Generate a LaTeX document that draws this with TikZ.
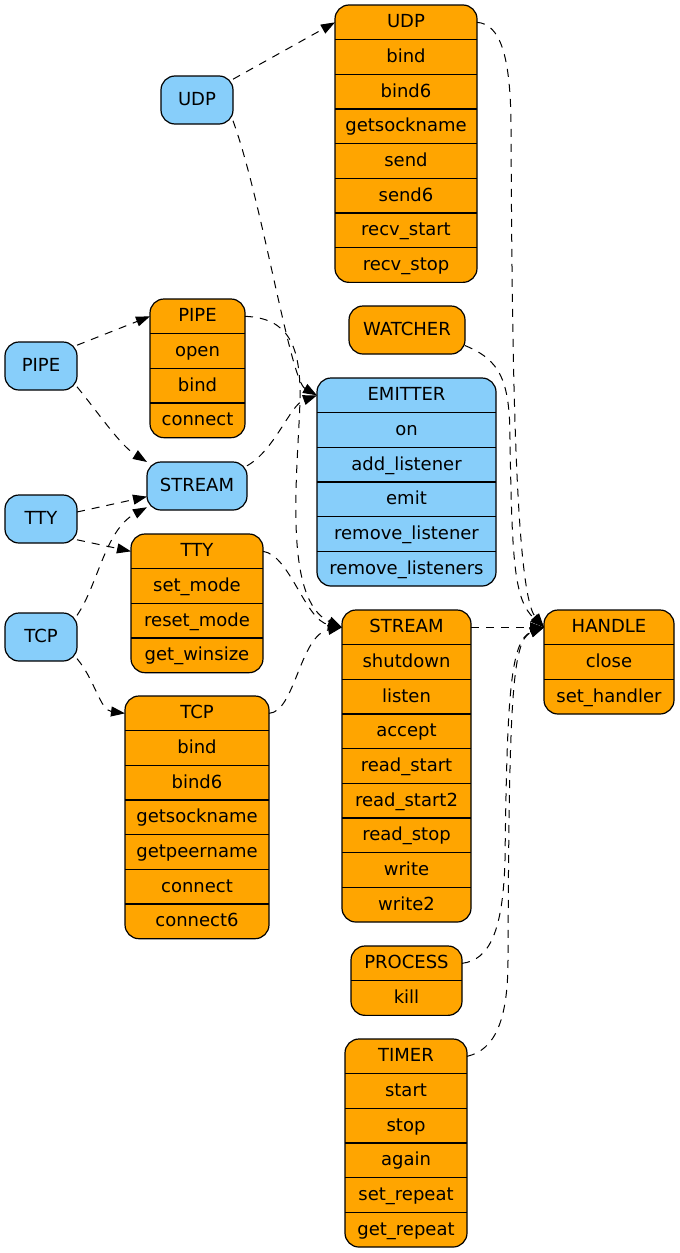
\documentclass[tikz,border=0pt]{standalone}
\usepackage{fontspec}
\setmainfont{DejaVu Sans}
\usetikzlibrary{arrows.meta}
\definecolor{methodorange}{HTML}{FFA500}
\definecolor{classblue}{HTML}{87CEFA}
\def\rowh{34.67}

% method table: name, colour, centre x, top y, width, number of rows, labels
\newcommand{\methodtable}[7]{%
  \node[box, fill=#2, minimum width=#5pt, minimum height={#6*\rowh*1pt}] (#1) at (#3, {#4+#6*\rowh/2}) {};
  \foreach \lbl [count=\i] in {#7} {
    \node[row, minimum width=#5pt] (#1-\i) at (#3, {#4+(\i-0.5)*\rowh}) {\lbl};
    \ifnum\i>1 \draw[sepline] (#1-\i.north west) -- (#1-\i.north east); \fi
  }%
}

\begin{document}
\begin{tikzpicture}[x=1pt, y=-1pt,
  every node/.style = {font=\fontsize{18}{21}\selectfont},
  box/.style = {draw, line width=1.2pt, rounded corners=14pt, inner sep=0pt, outer sep=0pt},
  row/.style = {inner sep=0pt, outer sep=0pt, minimum height=\rowh pt, text height=15pt, text depth=4pt},
  cls/.style = {box, fill=classblue, minimum width=72pt, minimum height=48pt, text height=15pt, text depth=4pt},
  sepline/.style = {line width=1.1pt},
  link/.style = {line width=1pt, dash pattern=on 8pt off 7pt, -{Triangle[length=14pt, width=10pt]}}]

\useasboundingbox (0,0) rectangle (680,1253);

% Classes
\node[cls] (udpc) at (197,100) {UDP};
\node[cls] (pipec) at (41,366) {PIPE};
\node[cls] (ttyc) at (41,519) {TTY};
\node[cls] (tcpc) at (41,637) {TCP};
\node[cls, minimum width=100pt] (streamc) at (197,486) {STREAM};

% Method tables
\methodtable{udp}{methodorange}{406}{5}{142}{8}{UDP,bind,bind6,getsockname,send,send6,recv\_start,recv\_stop}
\methodtable{pipe}{methodorange}{197.5}{299}{95}{4}{PIPE,open,bind,connect}
\node[cls, fill=methodorange, minimum width=116pt] (watcher) at (407,330) {WATCHER};
\methodtable{emitter}{classblue}{406.5}{378}{179}{6}{EMITTER,on,add\_listener,emit,remove\_listener,remove\_listeners}
\methodtable{tty}{methodorange}{197}{534}{132}{4}{TTY,set\_mode,reset\_mode,get\_winsize}
\methodtable{stream}{methodorange}{406.5}{610}{129}{9}{STREAM,shutdown,listen,accept,read\_start,read\_start2,read\_stop,write,write2}
\methodtable{handle}{methodorange}{609}{610}{130}{3}{HANDLE,close,set\_handler}
\methodtable{tcp}{methodorange}{197}{696}{144}{7}{TCP,bind,bind6,getsockname,getpeername,connect,connect6}
\methodtable{process}{methodorange}{406.5}{946}{111}{2}{PROCESS,kill}
\methodtable{timer}{methodorange}{406}{1039}{122}{6}{TIMER,start,stop,again,set\_repeat,get\_repeat}

% Links
\draw[link] (udpc.30) -- (udp-1.west);
\draw[link] (udpc.-30) .. controls (262,200) and (290,380) .. (emitter-1.west);
\draw[link] (udp-1.east) .. controls (500,24) and (511,55) .. (511,130) .. controls (512,300) and (513,590) .. (handle-1.west);
\draw[link] (pipec.30) -- (pipe-1.west);
\draw[link] (pipec.-30) .. controls (100,415) and (120,445) .. (streamc.north west);
\draw[link] (pipe-1.east) .. controls (288,318) and (301,345) .. (300,400) .. controls (298,470) and (282,600) .. (stream-1.west);
\draw[link] (streamc.22) .. controls (275,450) and (290,405) .. (emitter-1.west);
\draw[link] (watcher.-15) .. controls (500,360) and (510,380) .. (510,440) .. controls (512,560) and (514,600) .. (handle-1.west);
\draw[link] (ttyc.11) -- (streamc.192);
\draw[link] (ttyc.-30) -- (tty-1.west);
\draw[link] (tcpc.31) .. controls (98,585) and (105,530) .. (streamc.203);
\draw[link] (tcpc.-31) .. controls (95,680) and (100,710) .. (tcp-1.west);
\draw[link] (tty-1.east) .. controls (290,555) and (305,620) .. (stream-1.west);
\draw[link] (tcp-1.east) .. controls (295,712) and (300,635) .. (stream-1.west);
\draw[link] (stream-1.east) -- (handle-1.west);
\draw[link] (process-1.east) .. controls (490,960) and (503,930) .. (505,860) .. controls (507,700) and (510,640) .. (handle-1.west);
\draw[link] (timer-1.east) .. controls (495,1050) and (508,1020) .. (508,960) .. controls (509,700) and (512,640) .. (handle-1.west);

\end{tikzpicture}
\end{document}
